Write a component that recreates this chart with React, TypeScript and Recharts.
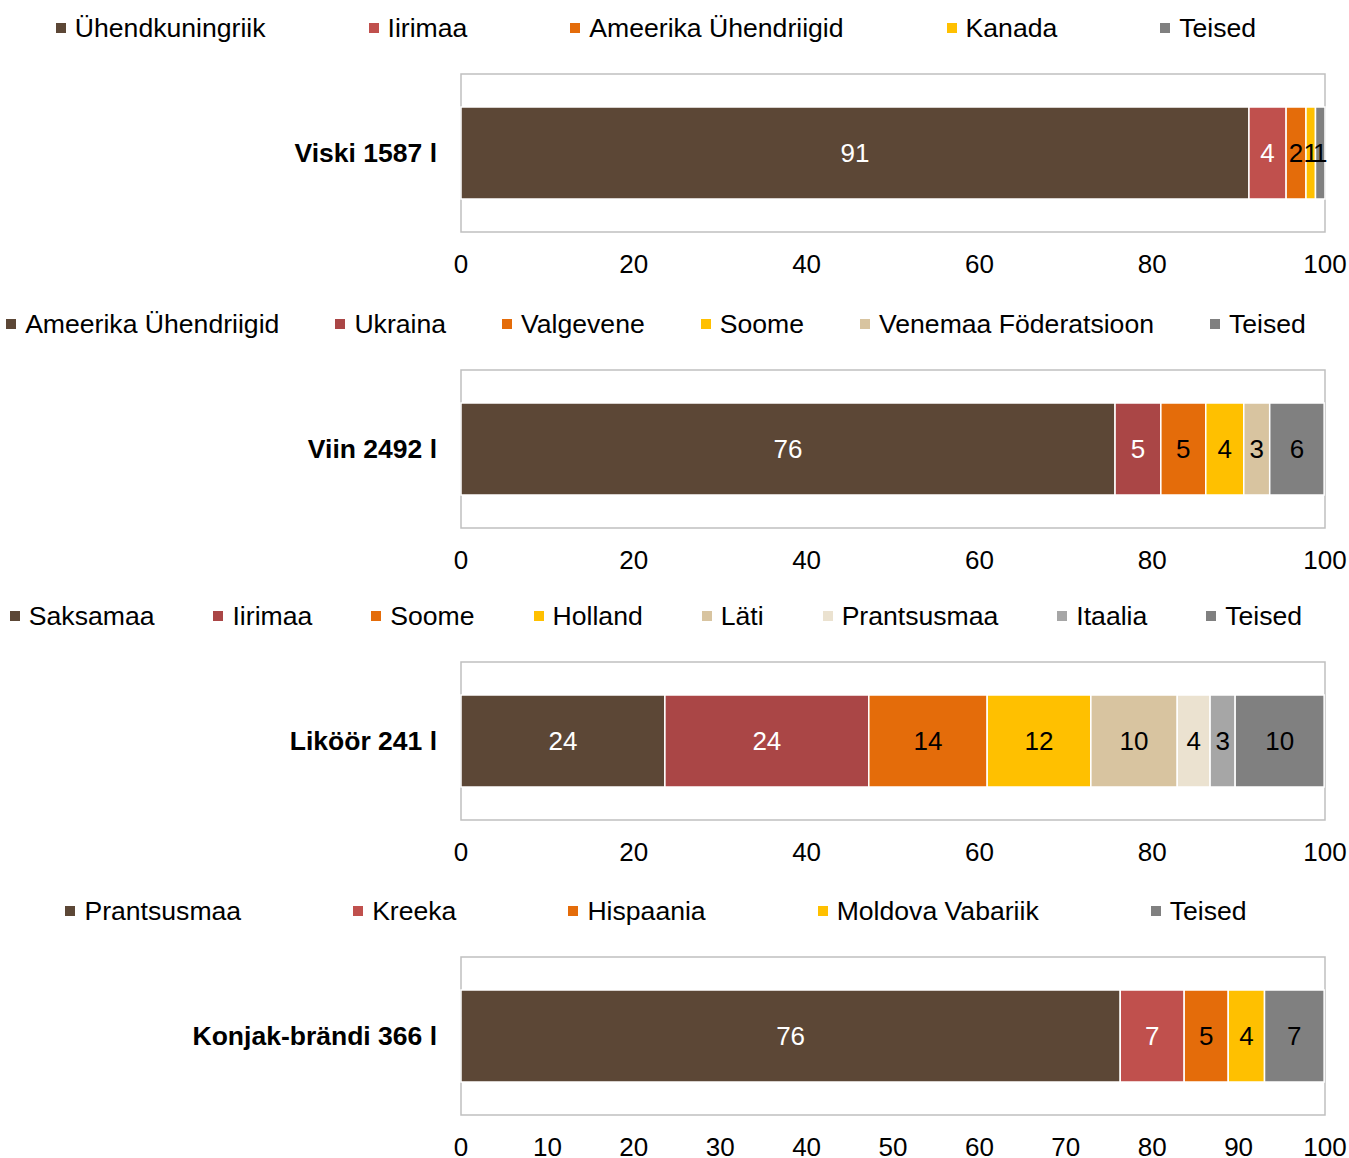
import React from "react";
import {
  Bar,
  BarChart,
  LabelList,
  ReferenceArea,
  XAxis,
  YAxis,
} from "recharts";

const FONT = '"Liberation Sans", Arial, sans-serif';

// shares in %
const viskiLabel = "Viski 1587 l";
const viskiCountries = ["Ühendkuningriik", "Iirimaa", "Ameerika Ühendriigid", "Kanada", "Teised"];
const viskiShares = [91.2, 4.3, 2.3, 1.1, 1.1];
const viskiColors = ["#5c4736", "#c0504d", "#e46c0a", "#ffc000", "#808080"];

const viinLabel = "Viin 2492 l";
const viinCountries = ["Ameerika Ühendriigid", "Ukraina", "Valgevene", "Soome", "Venemaa Föderatsioon", "Teised"];
const viinShares = [75.7, 5.3, 5.2, 4.4, 3.0, 6.3];
const viinColors = ["#5c4736", "#aa4646", "#e46c0a", "#ffc000", "#d8c4a0", "#808080"];

const likoorLabel = "Liköör 241 l";
const likoorCountries = ["Saksamaa", "Iirimaa", "Soome", "Holland", "Läti", "Prantsusmaa", "Itaalia", "Teised"];
const likoorShares = [23.6, 23.6, 13.7, 12.0, 10.0, 3.8, 2.9, 10.3];
const likoorColors = ["#5c4736", "#aa4646", "#e46c0a", "#ffc000", "#d8c4a0", "#ebe2d0", "#a6a6a6", "#808080"];

const konjakLabel = "Konjak-brändi 366 l";
const konjakCountries = ["Prantsusmaa", "Kreeka", "Hispaania", "Moldova Vabariik", "Teised"];
const konjakShares = [76.3, 7.4, 5.1, 4.2, 6.9];
const konjakColors = ["#5c4736", "#c0504d", "#e46c0a", "#ffc000", "#808080"];

const ticks20 = [0, 20, 40, 60, 80, 100];
const ticks10 = [0, 10, 20, 30, 40, 50, 60, 70, 80, 90, 100];

type ChartProps = {
  label: string;
  countries: string[];
  shares: number[];
  colors: string[];
  ticks: number[];
  legendY: number;
  plotTop: number;
  legendGap: number;
};

function StackChart({ label, countries, shares, colors, ticks, legendY, plotTop, legendGap }: ChartProps) {
  const row: Record<string, string | number> = { cat: label };
  shares.forEach((v, i) => (row["s" + i] = v));
  const data = [row];

  return (
    <>
      <div
        style={{
          position: "absolute",
          left: 0,
          top: legendY - 16,
          width: 1312,
          height: 32,
          display: "flex",
          alignItems: "center",
          justifyContent: "center",
          gap: legendGap,
          fontFamily: FONT,
          fontSize: 26.6,
          color: "#000",
          whiteSpace: "nowrap",
        }}
      >
        {countries.map((c, i) => (
          <div key={c} style={{ display: "flex", alignItems: "center" }}>
            <span style={{ width: 10, height: 10, background: colors[i], marginRight: 9, display: "inline-block" }} />
            <span>{c}</span>
          </div>
        ))}
      </div>
      <div style={{ position: "absolute", left: 0, top: plotTop - 10 }}>
        <BarChart
          width={1349}
          height={218}
          data={data}
          layout="vertical"
          margin={{ top: 10, right: 24, bottom: 0, left: 0 }}
          barSize={92}
        >
          <XAxis
            type="number"
            domain={[0, 100]}
            ticks={ticks}
            axisLine={false}
            tickLine={false}
            tickSize={0}
            tickMargin={23}
            height={50}
            tick={{ fill: "#000", fontSize: 26, fontFamily: FONT }}
          />
          <YAxis
            type="category"
            dataKey="cat"
            width={461}
            axisLine={false}
            tickLine={false}
            tickSize={0}
            tickMargin={24}
            tick={{ fill: "#000", fontSize: 26.5, fontWeight: "bold", fontFamily: FONT }}
          />
          <ReferenceArea x1={0} x2={100} stroke="#c0c0c0" strokeWidth={1.5} fill="none" fillOpacity={0} />
          {countries.map((c, i) => (
            <Bar
              key={c}
              dataKey={"s" + i}
              name={c}
              stackId="a"
              fill={colors[i]}
              stroke="#fff"
              strokeWidth={1.5}
              isAnimationActive={false}
            >
              <LabelList
                dataKey={"s" + i}
                position="center"
                fill={i < 2 ? "#fff" : "#000"}
                fontSize={26}
                fontFamily={FONT}
                formatter={(v: any) => Math.round(Number(v))}
              />
            </Bar>
          ))}
        </BarChart>
      </div>
    </>
  );
}

export default function App() {
  return (
    <div style={{ position: "absolute", left: 0, top: 0, width: 1349, height: 1158, background: "#fff" }}>
      <StackChart
        label={viskiLabel}
        countries={viskiCountries}
        shares={viskiShares}
        colors={viskiColors}
        ticks={ticks20}
        legendY={28}
        plotTop={74}
        legendGap={103}
      />
      <StackChart
        label={viinLabel}
        countries={viinCountries}
        shares={viinShares}
        colors={viinColors}
        ticks={ticks20}
        legendY={324}
        plotTop={370}
        legendGap={56}
      />
      <StackChart
        label={likoorLabel}
        countries={likoorCountries}
        shares={likoorShares}
        colors={likoorColors}
        ticks={ticks20}
        legendY={616}
        plotTop={662}
        legendGap={59}
      />
      <StackChart
        label={konjakLabel}
        countries={konjakCountries}
        shares={konjakShares}
        colors={konjakColors}
        ticks={ticks10}
        legendY={911}
        plotTop={957}
        legendGap={112}
      />
    </div>
  );
}
